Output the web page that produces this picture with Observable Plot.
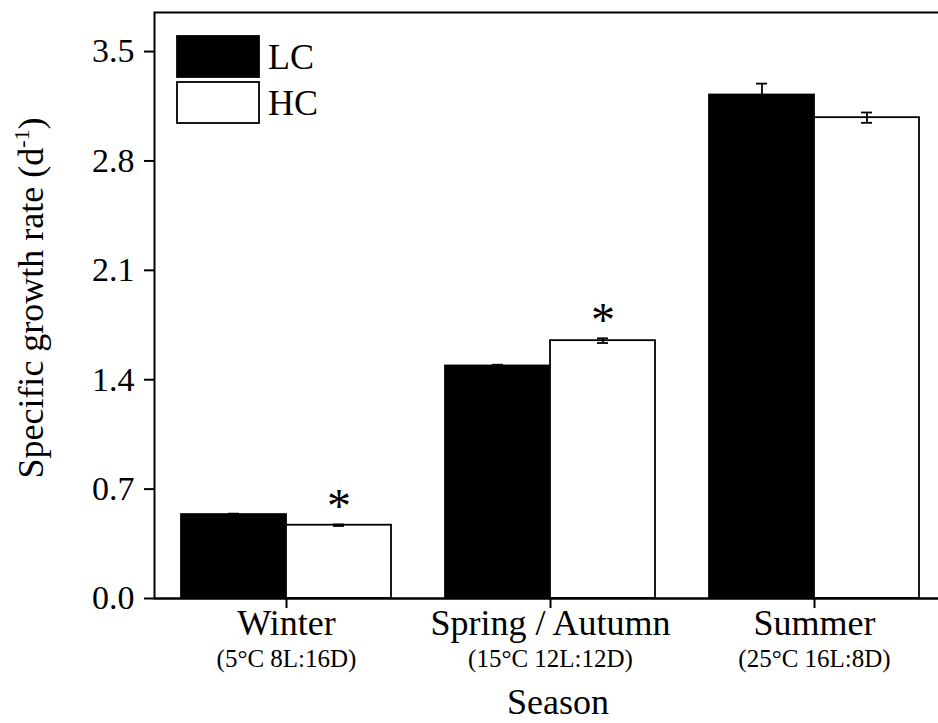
<!DOCTYPE html>
<html>
<head>
<meta charset="utf-8">
<script src="https://cdn.jsdelivr.net/npm/d3@7"></script>
<script src="https://cdn.jsdelivr.net/npm/@observablehq/plot@0.6"></script>
<style>
  html, body { margin: 0; padding: 0; background: white; overflow: hidden; }
  #chart { width: 938px; height: 723px; overflow: hidden; }
  #chart svg { max-width: none !important; height: 723px !important; }
</style>
</head>
<body>
<div id="chart"></div>
<script>
// ---- data ----
const seasons = ["Winter", "Spring / Autumn", "Summer"];
const conditions = ["(5°C 8L:16D)", "(15°C 12L:12D)", "(25°C 16L:8D)"];
const series = ["LC", "HC"];
const lcValues = [0.537, 1.488, 3.222];
const lcErrors = [0.006, 0.008, 0.073];
const hcValues = [0.469, 1.650, 3.077];
const hcErrors = [0.005, 0.015, 0.033];
const hcSignificant = [true, true, false];
const yTicks = [0, 0.7, 1.4, 2.1, 2.8, 3.5];
const yTitle = "Specific growth rate (d";
const yTitleSup = "-1";
const xTitle = "Season";

// ---- table built from the arrays ----
const rows = [];
seasons.forEach((s, i) => {
  rows.push({season: s, series: "LC", value: lcValues[i], err: lcErrors[i], sig: false});
  rows.push({season: s, series: "HC", value: hcValues[i], err: hcErrors[i], sig: hcSignificant[i]});
});
const seasonRows = seasons.map((s, i) => ({season: s, cond: conditions[i]}));
const sigRows = rows.filter(d => d.sig);

const FONT = "'Liberation Serif', 'Times New Roman', serif";

const chart = Plot.plot({
  width: 950,
  height: 723,
  marginLeft: 153,
  marginRight: 3,
  marginTop: 12,
  marginBottom: 125,
  style: {fontFamily: FONT, background: "white", color: "black", overflow: "visible"},
  fx: {domain: seasons, padding: 0, label: null},
  x: {domain: series, paddingInner: 0, paddingOuter: 0.25, axis: null},
  y: {domain: [0, 3.75]},
  color: {domain: series, range: ["black", "white"]},
  marks: [
    Plot.barY(rows, {fx: "season", x: "series", y: "value", fill: "series", stroke: "black", strokeWidth: 1.8}),
    Plot.ruleX(rows, {fx: "season", x: "series", y1: d => d.value - d.err, y2: d => d.value + d.err, stroke: "black", strokeWidth: 1.8}),
    Plot.tickY(rows, {fx: "season", x: "series", y: d => d.value + d.err, insetLeft: 47, insetRight: 47, stroke: "black", strokeWidth: 1.8}),
    Plot.tickY(rows, {fx: "season", x: "series", y: d => d.value - d.err, insetLeft: 47, insetRight: 47, stroke: "black", strokeWidth: 1.8}),
    Plot.text(sigRows, {fx: "season", x: "series", y: d => d.value + d.err, text: () => "*", lineAnchor: "bottom", dy: -2, fontSize: 48, fill: "black"}),
    Plot.ruleY([0], {stroke: "black", strokeWidth: 2}),
    Plot.frame({facet: "super", stroke: "black", strokeWidth: 2}),
    Plot.axisY(yTicks, {tickSize: 10, tickPadding: 10, tickFormat: d3.format(".1f"), fontSize: 34, strokeWidth: 2, label: null}),
    Plot.axisFx({anchor: "bottom", tickSize: 10, tickFormat: () => "", strokeWidth: 2, label: null}),
    Plot.text(seasonRows, {fx: "season", text: "season", frameAnchor: "bottom", lineAnchor: "top", dy: 11, fontSize: 36, fill: "black"}),
    Plot.text(seasonRows, {fx: "season", text: "cond", frameAnchor: "bottom", lineAnchor: "top", dy: 51, fontSize: 25, fill: "black"})
  ]
});

document.getElementById("chart").appendChild(chart);

// ---- titles and legend (real SVG text) ----
const svg = d3.select(chart.tagName.toLowerCase() === "svg" ? chart : chart.querySelector("svg"));

svg.append("text")
  .attr("x", 558).attr("y", 714)
  .attr("text-anchor", "middle")
  .attr("font-family", FONT).attr("font-size", 36).attr("fill", "black")
  .text(xTitle);

const yt = svg.append("text")
  .attr("transform", "translate(43,298) rotate(-90)")
  .attr("text-anchor", "middle")
  .attr("font-family", FONT).attr("font-size", 36).attr("fill", "black");
yt.append("tspan").text(yTitle);
yt.append("tspan").attr("font-size", 22).attr("dy", -14).text(yTitleSup);
yt.append("tspan").attr("dy", 14).text(")");

const legendFill = ["black", "white"];
series.forEach((name, i) => {
  const g = svg.append("g");
  g.append("rect")
    .attr("x", 177).attr("y", 36 + i * 46).attr("width", 82).attr("height", 41)
    .attr("fill", legendFill[i]).attr("stroke", "black").attr("stroke-width", 1.8);
  g.append("text")
    .attr("x", 268).attr("y", 69 + i * 46)
    .attr("text-anchor", "start")
    .attr("font-family", FONT).attr("font-size", 36).attr("fill", "black")
    .text(name);
});
</script>
</body>
</html>
